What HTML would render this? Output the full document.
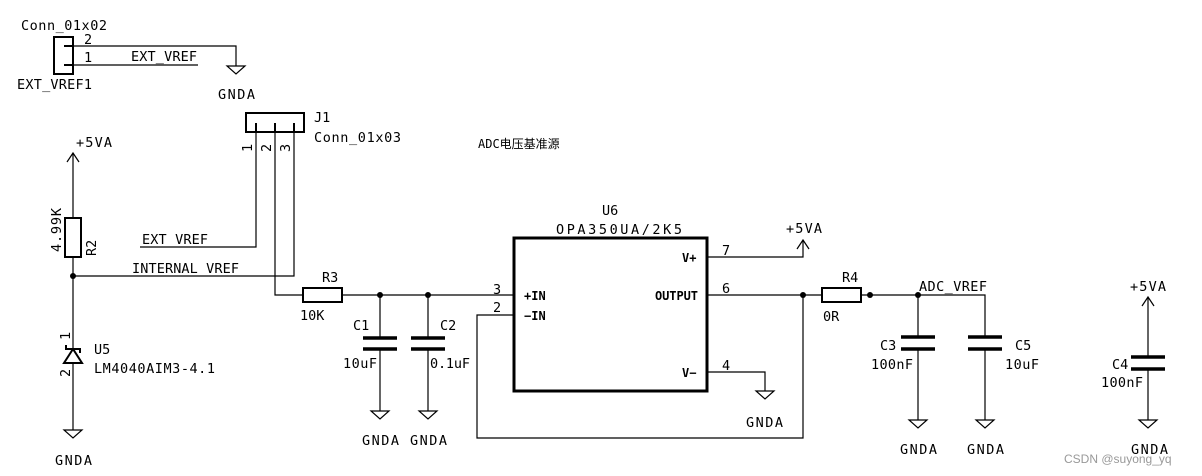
<!DOCTYPE html>
<html><head><meta charset="utf-8"><style>
html,body{margin:0;padding:0;background:#fff;}
svg{display:block;}
text{font-family:"DejaVu Sans Mono","Liberation Mono","Noto Sans CJK SC",monospace;font-size:13.5px;fill:#000;}
.p{font-size:12px;font-weight:bold;}
</style></head><body>
<svg width="1202" height="476" viewBox="0 0 1202 476" xmlns="http://www.w3.org/2000/svg">
<g stroke="#000" stroke-width="1.2" fill="none">
<rect x="54" y="37" width="19" height="37" stroke-width="2"/>
<line x1="64" y1="46" x2="73" y2="46" stroke-width="2"/>
<line x1="64" y1="65" x2="73" y2="65" stroke-width="2"/>
<polyline points="73,46 236,46 236,66"/>
<line x1="73" y1="65" x2="198" y2="65"/>
<polygon points="227,66 245,66 236,74"/>
<rect x="246" y="113" width="58" height="19" stroke-width="2"/>
<line x1="256" y1="123" x2="256" y2="132" stroke-width="2"/>
<line x1="275" y1="123" x2="275" y2="132" stroke-width="2"/>
<line x1="294" y1="123" x2="294" y2="132" stroke-width="2"/>
<polyline points="256,132 256,247 140,247"/>
<polyline points="275,132 275,295 303,295"/>
<polyline points="294,132 294,276 73,276"/>
<line x1="73" y1="153" x2="73" y2="218"/>
<polyline points="67,162 73,153 79,162"/>
<rect x="65" y="218" width="16" height="39" stroke-width="2"/>
<line x1="73" y1="257" x2="73" y2="349"/>
<polygon points="73,349 64,363 82,363" stroke-width="2"/>
<polyline points="66,345 66,349 80,349 80,353" stroke-width="2"/>
<line x1="73" y1="363" x2="73" y2="430"/>
<polygon points="64,430 82,430 73,438"/>
<rect x="303" y="288" width="39" height="14" stroke-width="2"/>
<line x1="342" y1="295" x2="514" y2="295"/>
<line x1="380" y1="295" x2="380" y2="338"/>
<line x1="380" y1="349" x2="380" y2="411"/>
<line x1="363" y1="338" x2="397" y2="338" stroke-width="3.5"/>
<line x1="363" y1="349" x2="397" y2="349" stroke-width="3.5"/>
<polygon points="371,411 389,411 380,419"/>
<line x1="428" y1="295" x2="428" y2="338"/>
<line x1="428" y1="349" x2="428" y2="411"/>
<line x1="411" y1="338" x2="445" y2="338" stroke-width="3.5"/>
<line x1="411" y1="349" x2="445" y2="349" stroke-width="3.5"/>
<polygon points="419,411 437,411 428,419"/>
<rect x="514" y="238" width="193" height="153" stroke-width="3"/>
<polyline points="514,315 477,315 477,438 803,438 803,295"/>
<line x1="707" y1="295" x2="822" y2="295"/>
<polyline points="707,257 803,257 803,240"/>
<polyline points="797,249 803,240 809,249"/>
<polyline points="707,372 765,372 765,391"/>
<polygon points="756,391 774,391 765,399"/>
<rect x="822" y="288" width="39" height="14" stroke-width="2"/>
<polyline points="861,295 985,295 985,336"/>
<line x1="918" y1="295" x2="918" y2="336"/>
<line x1="918" y1="349" x2="918" y2="420"/>
<line x1="901" y1="337" x2="935" y2="337" stroke-width="3.5"/>
<line x1="901" y1="349" x2="935" y2="349" stroke-width="3.5"/>
<polygon points="909,420 927,420 918,428"/>
<line x1="985" y1="349" x2="985" y2="420"/>
<line x1="968" y1="337" x2="1002" y2="337" stroke-width="3.5"/>
<line x1="968" y1="349" x2="1002" y2="349" stroke-width="3.5"/>
<polygon points="976,420 994,420 985,428"/>
<line x1="1148" y1="297" x2="1148" y2="357"/>
<polyline points="1142,306 1148,297 1154,306"/>
<line x1="1131" y1="357" x2="1165" y2="357" stroke-width="3.5"/>
<line x1="1131" y1="369" x2="1165" y2="369" stroke-width="3.5"/>
<line x1="1148" y1="369" x2="1148" y2="420"/>
<polygon points="1139,420 1157,420 1148,428"/>
</g>
<g fill="#000">
<circle cx="73" cy="276" r="3"/>
<circle cx="380" cy="295" r="3"/>
<circle cx="428" cy="295" r="3"/>
<circle cx="803" cy="295" r="3"/>
<circle cx="870" cy="295" r="3"/>
<circle cx="918" cy="295" r="3"/>
</g>
<text x="21" y="30" textLength="86">Conn_01x02</text>
<text x="84" y="44">2</text>
<text x="84" y="62">1</text>
<text x="131" y="61" textLength="66">EXT_VREF</text>
<text x="17" y="89" textLength="75">EXT_VREF1</text>
<text x="218" y="99" textLength="37">GNDA</text>
<text x="314" y="122">J1</text>
<text x="314" y="142" textLength="87">Conn_01x03</text>
<text transform="translate(252,152) rotate(-90)">1</text>
<text transform="translate(271,152) rotate(-90)">2</text>
<text transform="translate(290,152) rotate(-90)">3</text>
<text x="478" y="148" style="font-size:12px">ADC电压基准源</text>
<text x="76" y="147" textLength="36">+5VA</text>
<text transform="translate(61,252) rotate(-90)" textLength="44">4.99K</text>
<text transform="translate(96,256) rotate(-90)">R2</text>
<text x="142" y="244" textLength="66">EXT_VREF</text>
<text x="132" y="273" textLength="107">INTERNAL_VREF</text>
<text transform="translate(70,340) rotate(-90)">1</text>
<text transform="translate(70,377) rotate(-90)">2</text>
<text x="94" y="354">U5</text>
<text x="94" y="373" textLength="121">LM4040AIM3-4.1</text>
<text x="55" y="465" textLength="37">GNDA</text>
<text x="322" y="282">R3</text>
<text x="300" y="320">10K</text>
<text x="353" y="330">C1</text>
<text x="343" y="368" textLength="34">10uF</text>
<text x="440" y="330">C2</text>
<text x="430" y="368" textLength="40">0.1uF</text>
<text x="362" y="445" textLength="37">GNDA</text>
<text x="410" y="445" textLength="37">GNDA</text>
<text x="493" y="294">3</text>
<text x="493" y="312">2</text>
<text x="524" y="300" class="p">+IN</text>
<text x="524" y="320" class="p">−IN</text>
<text x="655" y="300" class="p" textLength="43">OUTPUT</text>
<text x="682" y="262" class="p">V+</text>
<text x="682" y="377" class="p">V−</text>
<text x="722" y="255">7</text>
<text x="722" y="293">6</text>
<text x="722" y="370">4</text>
<text x="602" y="215">U6</text>
<text x="556" y="234" textLength="126">OPA350UA/2K5</text>
<text x="786" y="233" textLength="36">+5VA</text>
<text x="746" y="427" textLength="37">GNDA</text>
<text x="842" y="282">R4</text>
<text x="823" y="321">0R</text>
<text x="919" y="291" textLength="68">ADC_VREF</text>
<text x="880" y="350">C3</text>
<text x="871" y="369" textLength="42">100nF</text>
<text x="1015" y="350">C5</text>
<text x="1005" y="369" textLength="34">10uF</text>
<text x="900" y="454" textLength="37">GNDA</text>
<text x="967" y="454" textLength="37">GNDA</text>
<text x="1130" y="291" textLength="36">+5VA</text>
<text x="1112" y="369">C4</text>
<text x="1101" y="387" textLength="42">100nF</text>
<text x="1131" y="454" textLength="37">GNDA</text>
<text x="1064" y="463" style="font-family:'Liberation Sans',sans-serif;font-size:12px;fill:#999">CSDN @suyong_yq</text>
</svg>
</body></html>
